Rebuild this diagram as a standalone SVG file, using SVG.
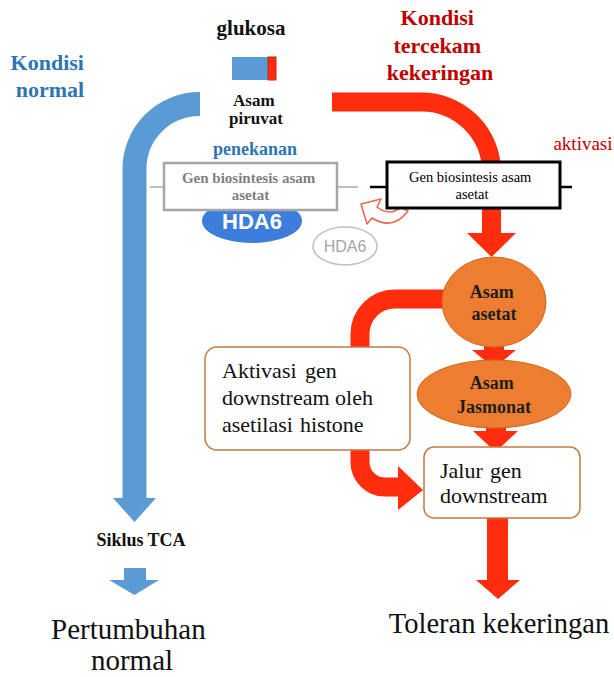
<svg xmlns="http://www.w3.org/2000/svg" width="614" height="677" viewBox="0 0 614 677">
<style>
text{font-family:'Liberation Serif','DejaVu Serif',serif}
text.sans{font-family:'Liberation Sans','DejaVu Sans',sans-serif}
.b{font-weight:bold}
.blue-arrow{fill:none;stroke:#5B9BD5;stroke-linecap:butt}
.red-arrow{fill:none;stroke:#FF2D0D;stroke-linecap:butt}
.rbox{fill:#FFFFFF;stroke:#C47A3F;stroke-width:1.5}
.orange{fill:#ED7D31;stroke:#D06A20;stroke-width:1}
</style>
<rect width="614" height="677" fill="#FFFFFF"/>

<g id="connectors">
  <path class="blue-arrow" stroke-width="24" d="M 200 104 L 199.5 104 A 65 65 0 0 0 134.5 169 L 134.5 499"/>
  <polygon fill="#5B9BD5" points="113,498 156,498 134.5,522"/>
  <rect x="124" y="568" width="22" height="13" fill="#5B9BD5"/>
  <polygon fill="#5B9BD5" points="109,580 159,580 134.5,595"/>
  <path class="red-arrow" stroke-width="19" d="M 332 102 L 421 102 A 70 70 0 0 1 491.5 172 L 491.5 234"/>
  <polygon fill="#FF2D0D" points="467,233 516,233 491.5,257"/>
  <path class="red-arrow" stroke-width="19" d="M 446 299 L 395 299 A 35 35 0 0 0 360 334 L 360 462 A 25 25 0 0 0 385 487 L 400 487"/>
  <polygon fill="#FF2D0D" points="398,466 398,510 423,490"/>
  <rect x="484" y="340" width="20" height="12" fill="#FF2D0D"/>
  <polygon fill="#FF2D0D" points="472,350 516,350 494,368"/>
  <rect x="486" y="424" width="20" height="8" fill="#FF2D0D"/>
  <polygon fill="#FF2D0D" points="473,431 518,431 495.5,452"/>
  <rect x="487" y="517" width="21" height="64" fill="#FF2D0D"/>
  <polygon fill="#FF2D0D" points="476,580 520,580 498,599"/>
  <line x1="150" y1="187" x2="165" y2="187" stroke="#BFBFBF" stroke-width="2"/>
  <line x1="336" y1="187" x2="358" y2="187" stroke="#BFBFBF" stroke-width="2"/>
  <line x1="370" y1="187" x2="388" y2="187" stroke="#000000" stroke-width="2.5"/>
  <line x1="559" y1="187" x2="572" y2="187" stroke="#000000" stroke-width="2.5"/>
  <path d="M 361 204 L 381 199 L 377 207 Q 390 217 401 207 L 408 211 Q 393 231 372 218 L 367 224 Z" fill="#FFFFFF" stroke="#E8664A" stroke-width="1.5" stroke-linejoin="round"/>
</g>

<g id="glukosa">
  <text class="b" x="251" y="35" font-size="21" text-anchor="middle" fill="#111111">glukosa</text>
  <rect x="232" y="57" width="36" height="23" fill="#5B9BD5"/>
  <rect x="268" y="57" width="8" height="23" fill="#FF2D0D" stroke="#C0281A" stroke-width="1"/>
</g>

<g id="kondisi-normal">
  <text class="b" font-size="22" fill="#2E75B6" text-anchor="middle">
    <tspan x="50" y="70">Kondisi</tspan>
    <tspan x="50" y="97">normal</tspan>
  </text>
</g>

<g id="kondisi-kekeringan">
  <text class="b" font-size="22" fill="#C00000" text-anchor="middle">
    <tspan x="440" y="25">Kondisi</tspan>
    <tspan x="440" y="53">tercekam</tspan>
    <tspan x="440" y="80">kekeringan</tspan>
  </text>
</g>

<g id="asam-piruvat">
  <text class="b" font-size="17" fill="#111111" text-anchor="middle">
    <tspan x="256" y="106">Asam</tspan>
    <tspan x="256" y="124">piruvat</tspan>
  </text>
</g>

<g id="penekanan">
  <text class="b" x="255" y="155" font-size="18" fill="#2E75B6" text-anchor="middle">penekanan</text>
</g>

<g id="hda6-bound">
  <ellipse cx="252" cy="221" rx="50" ry="22" fill="#3D7DDB"/>
  <text class="sans b" x="252" y="229" font-size="22" fill="#FFFFFF" text-anchor="middle">HDA6</text>
</g>

<g id="gen-tertekan">
  <rect x="164" y="163" width="173" height="47" fill="#FFFFFF" stroke="#A6A6A6" stroke-width="2.5"/>
  <text class="b" font-size="15" fill="#7F7F7F" text-anchor="middle">
    <tspan x="250.5" y="183">Gen biosintesis asam</tspan>
    <tspan x="250.5" y="200">asetat</tspan>
  </text>
</g>

<g id="hda6-free">
  <ellipse cx="345" cy="246" rx="32" ry="19" fill="#FFFFFF" stroke="#BFBFBF" stroke-width="1.5"/>
  <text class="sans" x="345" y="252" font-size="16" fill="#A6A6A6" text-anchor="middle">HDA6</text>
</g>

<g id="gen-aktif">
  <rect x="387" y="162" width="173" height="46" fill="#FFFFFF" stroke="#000000" stroke-width="3"/>
  <text font-size="14.5" fill="#000000" text-anchor="middle">
    <tspan x="472" y="182">Gen biosintesis asam</tspan>
    <tspan x="472" y="199">asetat</tspan>
  </text>
</g>

<g id="aktivasi">
  <text x="583" y="150" font-size="19" fill="#C00000" text-anchor="middle">aktivasi</text>
</g>

<g id="asam-asetat">
  <ellipse class="orange" cx="494" cy="302" rx="52" ry="45"/>
  <text class="b" font-size="18" fill="#1E1E1E" text-anchor="middle">
    <tspan x="494" y="298">Asam</tspan>
    <tspan x="494" y="320">asetat</tspan>
  </text>
</g>

<g id="asam-jasmonat">
  <ellipse class="orange" cx="494" cy="394" rx="77" ry="34"/>
  <text class="b" font-size="18" fill="#1E1E1E" text-anchor="middle">
    <tspan x="494" y="389">Asam</tspan>
    <tspan x="494" y="413">Jasmonat</tspan>
  </text>
</g>

<g id="aktivasi-gen">
  <rect class="rbox" x="205" y="347" width="205" height="103" rx="12"/>
  <text font-size="22" fill="#111111">
    <tspan x="222" y="378">Aktivasi</tspan><tspan x="305" y="378">gen</tspan>
    <tspan x="222" y="405">downstream oleh</tspan>
    <tspan x="222" y="432">asetilasi</tspan><tspan x="300" y="432">histone</tspan>
  </text>
</g>

<g id="jalur-gen">
  <rect class="rbox" x="424" y="447" width="156" height="71" rx="10"/>
  <text font-size="22" fill="#111111">
    <tspan x="440" y="478">Jalur</tspan><tspan x="490" y="478">gen</tspan>
    <tspan x="440" y="503">downstream</tspan>
  </text>
</g>

<g id="siklus-tca">
  <text class="b" x="141" y="546" font-size="18" fill="#111111" text-anchor="middle">Siklus TCA</text>
</g>

<g id="pertumbuhan-normal">
  <text font-size="29" fill="#111111" text-anchor="middle">
    <tspan x="132" y="639">Pertumbuhan</tspan>
    <tspan x="132" y="670">normal</tspan>
  </text>
</g>

<g id="toleran-kekeringan">
  <text x="499" y="633" font-size="28.5" fill="#111111" text-anchor="middle">Toleran kekeringan</text>
</g>
</svg>
